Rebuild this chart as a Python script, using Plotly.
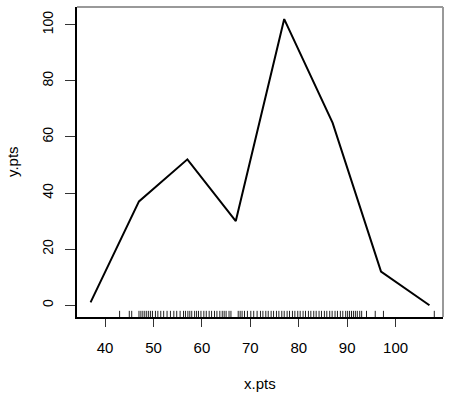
import plotly.graph_objects as go

# Frequency polygon points
x_pts = [37, 47, 57, 67, 77, 87, 97, 107]
y_pts = [1, 37, 52, 30, 102, 65, 12, 0]

# Rug (observed data positions)
rug_x = [43, 45, 45.5, 47, 47.4, 47.8, 48.2, 48.6, 49, 49.4, 49.8, 50.4, 50.9,
         51.5, 52.1, 52.8, 53.5, 54.2, 54.8, 55.5, 56.2, 56.6, 57.1, 57.5, 57.9,
         58.5, 58.9, 59.3, 59.8, 60.4, 60.9, 61.5, 62.0, 62.6, 63.1, 63.7, 64.2,
         64.6, 65.0, 65.6, 66.0, 67.5, 67.9, 68.3, 68.8, 69.4, 70.1, 70.7, 71.4,
         72.1, 72.6, 73.2, 73.7, 74.3, 74.8, 75.4, 75.9, 76.5, 77.0, 77.6, 78.1,
         78.7, 79.2, 79.8, 80.3, 80.9, 81.4, 82.0, 82.5, 83.1, 83.6, 84.2, 84.7,
         85.3, 85.8, 86.4, 86.9, 87.5, 88.0, 88.6, 89.1, 89.7, 90.1, 90.5, 90.9,
         91.3, 91.7, 92.1, 92.6, 93.0, 94.0, 95.8, 97.5, 108]

x_ticks = [40, 50, 60, 70, 80, 90, 100]
y_ticks = [0, 20, 40, 60, 80, 100]

XR = [34.2, 109.8]
YR = [-4.2, 106.3]

rx, ry = [], []
for v in rug_x:
    rx += [v, v, None]
    ry += [YR[0], YR[0] + 2.2, None]

fig = go.Figure()
fig.add_trace(go.Scatter(x=rx, y=ry, mode="lines",
                         line=dict(color="#222222", width=1), hoverinfo="skip"))
fig.add_trace(go.Scatter(x=x_pts, y=y_pts, mode="lines",
                         line=dict(color="black", width=2)))

font = "Liberation Sans, Arial, Helvetica, sans-serif"
fig.update_layout(
    width=453, height=393,
    margin=dict(l=77, r=10, t=7, b=76),
    paper_bgcolor="white", plot_bgcolor="white",
    showlegend=False,
    font=dict(family=font, color="black"),
    xaxis=dict(range=XR, tickvals=x_ticks, ticks="outside", ticklen=8,
               tickwidth=1, tickcolor="#333", showgrid=False, zeroline=False,
               showline=True, linecolor="black", linewidth=2,
               tickfont=dict(size=15), ticklabelstandoff=8),
    yaxis=dict(range=YR, tickvals=y_ticks, ticks="outside", ticklen=10,
               tickwidth=1, tickcolor="#333", showgrid=False, zeroline=False,
               showline=True, linecolor="black", linewidth=2, tickangle=-90,
               tickfont=dict(size=14), ticklabelstandoff=6),
    shapes=[
        dict(type="line", xref="paper", yref="paper", x0=0, x1=1, y0=1, y1=1,
             line=dict(color="#999999", width=2)),
        dict(type="line", xref="paper", yref="paper", x0=1, x1=1, y0=0, y1=1,
             line=dict(color="#999999", width=2)),
    ],
    annotations=[
        dict(text="x.pts", xref="paper", yref="paper", x=0.5, y=0,
             yshift=-66, showarrow=False, font=dict(size=15),
             xanchor="center", yanchor="middle"),
        dict(text="y.pts", xref="paper", yref="paper", x=0, y=0.5,
             xshift=-65, showarrow=False, font=dict(size=15), textangle=-90,
             xanchor="center", yanchor="middle"),
    ],
)

fig.write_html("out.html")
